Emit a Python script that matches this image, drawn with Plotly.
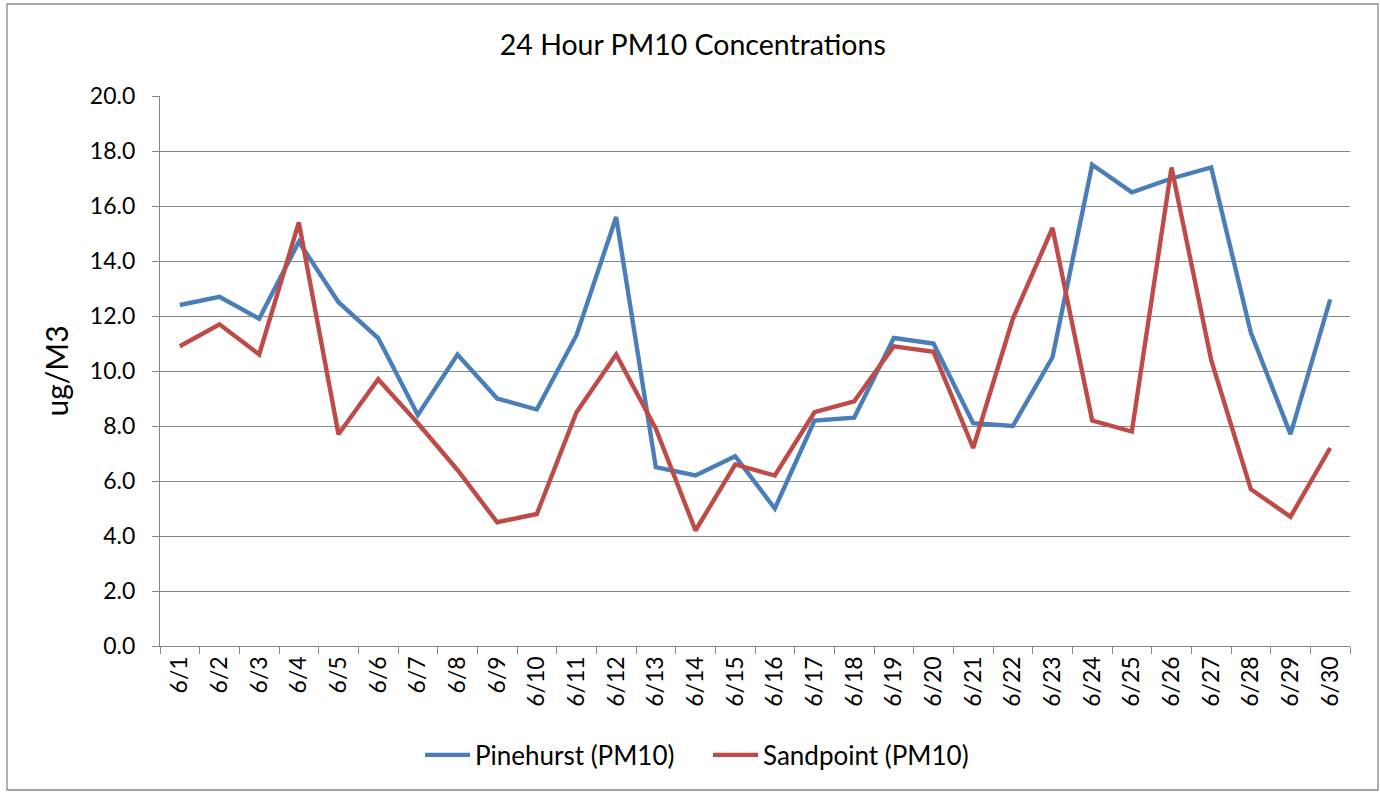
import plotly.graph_objects as go

days = [f"6/{d}" for d in range(1, 31)]
pinehurst = [12.4, 12.7, 11.9, 14.7, 12.5, 11.2, 8.4, 10.6, 9.0, 8.6,
             11.3, 15.6, 6.5, 6.2, 6.9, 5.0, 8.2, 8.3, 11.2, 11.0,
             8.1, 8.0, 10.5, 17.5, 16.5, 17.0, 17.4, 11.4, 7.7, 12.6]
sandpoint = [10.9, 11.7, 10.6, 15.4, 7.7, 9.7, 8.1, 6.4, 4.5, 4.8,
             8.5, 10.6, 7.9, 4.2, 6.6, 6.2, 8.5, 8.9, 10.9, 10.7,
             7.2, 11.9, 15.2, 8.2, 7.8, 17.4, 10.4, 5.7, 4.7, 7.2]
y_ticks = [0, 2, 4, 6, 8, 10, 12, 14, 16, 18, 20]

W, H = 1380, 792
ml, mr, mt, mb = 160, 30, 96, 146
pw, ph = W - ml - mr, H - mt - mb

font = "Lato, 'Open Sans', sans-serif"

fig = go.Figure()
fig.add_trace(go.Scatter(x=days, y=pinehurst, mode="lines", name="Pinehurst (PM10)",
                         line=dict(color="#4A7EBB", width=4.4)))
fig.add_trace(go.Scatter(x=days, y=sandpoint, mode="lines", name="Sandpoint (PM10)",
                         line=dict(color="#BE4B48", width=4.4)))

def px_x(p):
    return (p - ml) / pw

def px_y(p):
    return (H - mb - p) / ph

fig.update_layout(
    width=W, height=H,
    margin=dict(l=ml, r=mr, t=mt, b=mb),
    paper_bgcolor="white", plot_bgcolor="white",
    font=dict(family=font, size=23, color="black"),
    title=dict(text="24 Hour PM10 Concentrations", x=0.502, xanchor="center",
               y=1 - 45 / H, yanchor="middle", font=dict(size=28.5, family=font)),
    showlegend=True,
    legend=dict(orientation="h", x=px_x(420), xanchor="left", y=px_y(755), yanchor="middle",
                font=dict(size=26, family=font), itemwidth=45, tracegroupgap=0,
                entrywidth=228, entrywidthmode="pixels"),
    xaxis=dict(type="category", tickson="boundaries", ticks="outside", ticklen=7,
               tickcolor="#868686", tickwidth=1.3, showline=True, linecolor="#868686",
               linewidth=1.3, showgrid=False, tickangle=-90,
               tickfont=dict(size=23, family=font), range=[-0.5, 29.5]),
    yaxis=dict(range=[0, 20], tickvals=y_ticks, ticktext=[f"{v:.1f}" for v in y_ticks],
               ticks="outside", ticklen=7, tickcolor="#868686", tickwidth=1.3,
               ticklabelstandoff=12,
               showline=True, linecolor="#868686", linewidth=1.3,
               showgrid=True, gridcolor="#868686", gridwidth=1.3, zeroline=False,
               tickfont=dict(size=23, family=font),
               title=dict(text="ug/M3", font=dict(size=30, family=font), standoff=12)),
    shapes=[dict(type="rect", xref="paper", yref="paper",
                 x0=px_x(7), x1=px_x(1378), y0=px_y(790), y1=px_y(4),
                 line=dict(color="#868686", width=1.3), layer="below")],
)

fig.write_html("out.html", config={"displayModeBar": False},
               post_script="document.body.style.margin='0px';document.body.style.overflow='hidden';")
